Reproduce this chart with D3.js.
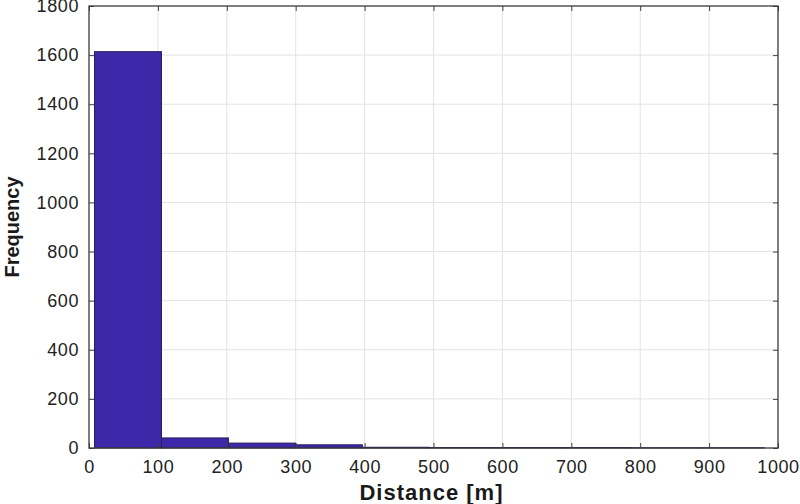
<!DOCTYPE html>
<html>
<head>
<meta charset="UTF-8">
<title>Distance histogram</title>
<script src="https://d3js.org/d3.v7.min.js"></script>
<style>
  body { margin: 0; background: #fff; }
  svg { display: block; font-family: "Liberation Sans", Arial, sans-serif; }
  .grid line { stroke: #e3e3e3; stroke-width: 1; }
  .tick text { font-size: 18px; fill: #222; letter-spacing: 0.6px; }
</style>
</head>
<body>
<div id="chart"></div>
<script>
  // histogram bins (edges in metres) and counts
  const binEdges = [8, 105.2, 202.4, 299.6, 396.8, 494, 591.2, 688.4, 785.6, 882.8, 980];
  const counts = [1614, 41, 20, 13, 3, 2, 2, 2, 1, 1];
  const xTicks = [0, 100, 200, 300, 400, 500, 600, 700, 800, 900, 1000];
  const yTicks = [0, 200, 400, 600, 800, 1000, 1200, 1400, 1600, 1800];

  const width = 800, height = 504;
  const margin = {top: 6, right: 22, bottom: 56, left: 89};
  const w = width - margin.left - margin.right;
  const h = height - margin.top - margin.bottom;

  const svg = d3.select("#chart").append("svg")
    .attr("width", width).attr("height", height);
  const g = svg.append("g")
    .attr("transform", `translate(${margin.left},${margin.top})`);

  const x = d3.scaleLinear().domain([0, 1000]).range([0, w]);
  const y = d3.scaleLinear().domain([0, 1800]).range([h, 0]);

  // grid
  g.append("g").attr("class", "grid")
    .selectAll("line").data(xTicks.slice(1, -1)).join("line")
    .attr("x1", d => x(d)).attr("x2", d => x(d))
    .attr("y1", 0).attr("y2", h);
  g.append("g").attr("class", "grid")
    .selectAll("line").data(yTicks.slice(1, -1)).join("line")
    .attr("x1", 0).attr("x2", w)
    .attr("y1", d => y(d)).attr("y2", d => y(d));

  // bars
  const bins = counts.map((c, i) => ({x0: binEdges[i], x1: binEdges[i + 1], n: c}));
  g.selectAll("rect.bar").data(bins).join("rect")
    .attr("class", "bar")
    .attr("x", d => x(d.x0))
    .attr("width", d => x(d.x1) - x(d.x0))
    .attr("y", d => y(d.n))
    .attr("height", d => h - y(d.n))
    .attr("fill", "#3c28a8")
    .attr("stroke", "#29205e")
    .attr("stroke-width", 1);

  // axes, ticks pointing inward
  const fmt = d3.format("d");
  const axisStyle = sel => {
    sel.select(".domain").remove();
    sel.selectAll(".tick line").attr("stroke", "#444");
  };
  g.append("g").attr("transform", `translate(0,${h})`)
    .call(d3.axisBottom(x).tickValues(xTicks).tickFormat(fmt).tickSizeInner(-5).tickSizeOuter(0).tickPadding(12))
    .call(axisStyle);
  g.append("g")
    .call(d3.axisLeft(y).tickValues(yTicks).tickFormat(fmt).tickSizeInner(-5).tickSizeOuter(0).tickPadding(10))
    .call(axisStyle);
  g.append("g")
    .call(d3.axisTop(x).tickValues(xTicks).tickSizeInner(-5).tickSizeOuter(0).tickFormat(""))
    .call(axisStyle);
  g.append("g").attr("transform", `translate(${w},0)`)
    .call(d3.axisRight(y).tickValues(yTicks).tickSizeInner(-5).tickSizeOuter(0).tickFormat(""))
    .call(axisStyle);

  // box
  g.append("rect").attr("width", w).attr("height", h)
    .attr("fill", "none").attr("stroke", "#3a3a3a").attr("stroke-width", 1.3);

  // axis labels
  svg.append("text")
    .attr("x", margin.left + w / 2 - 2).attr("y", 500)
    .attr("text-anchor", "middle")
    .style("font-size", "22px").style("font-weight", "bold").style("letter-spacing", "1px")
    .attr("fill", "#1a1a1a")
    .text("Distance [m]");
  svg.append("text")
    .attr("transform", `translate(19,${margin.top + h / 2}) rotate(-90)`)
    .attr("text-anchor", "middle")
    .style("font-size", "20px").style("font-weight", "bold").attr("fill", "#1a1a1a")
    .text("Frequency");
</script>
</body>
</html>
